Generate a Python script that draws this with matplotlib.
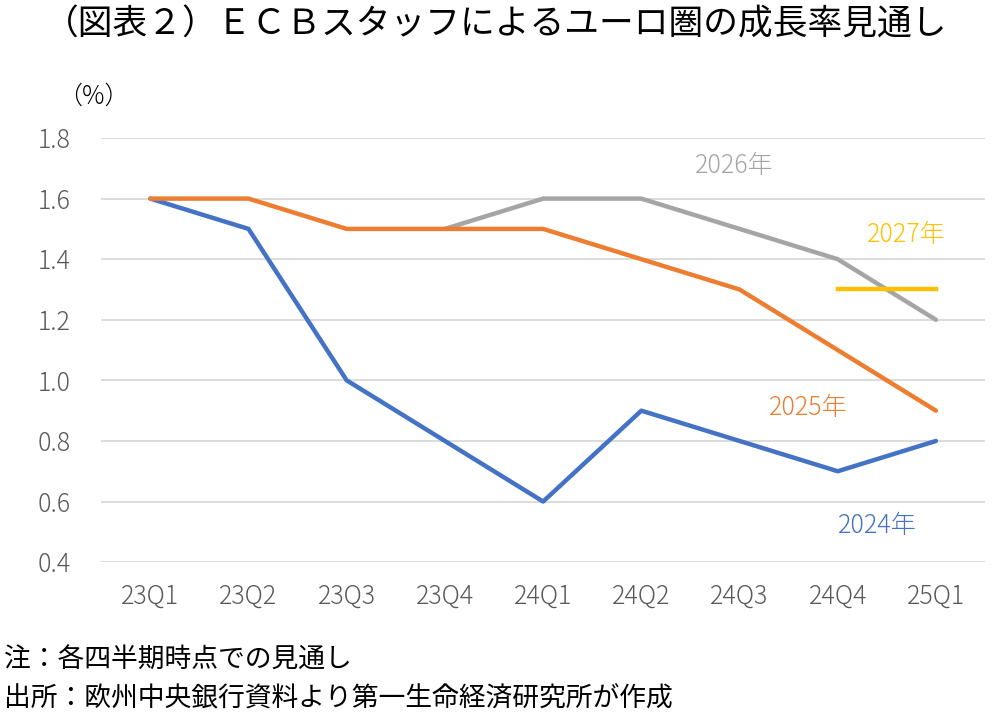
import matplotlib
matplotlib.use('Agg')
import matplotlib.pyplot as plt
import numpy as np

plt.rcParams['font.family'] = ['Noto Sans CJK JP', 'DejaVu Sans']

# data
quarters = ['23Q1', '23Q2', '23Q3', '23Q4', '24Q1', '24Q2', '24Q3', '24Q4', '25Q1']
y2024 = [1.6, 1.5, 1.0, 0.8, 0.6, 0.9, 0.8, 0.7, 0.8]
y2025 = [1.6, 1.6, 1.5, 1.5, 1.5, 1.4, 1.3, 1.1, 0.9]
y2026 = [np.nan, np.nan, np.nan, 1.5, 1.6, 1.6, 1.5, 1.4, 1.2]
y2027 = [np.nan, np.nan, np.nan, np.nan, np.nan, np.nan, np.nan, 1.3, 1.3]
yticks = [0.4, 0.6, 0.8, 1.0, 1.2, 1.4, 1.6, 1.8]

c_blue = '#4472C4'
c_orange = '#ED7D31'
c_gray = '#A5A5A5'
c_yellow = '#FFC000'
tick_col = '#595959'

fig = plt.figure(figsize=(9.92, 7.17), dpi=100)
ax = fig.add_axes([0.102, 0.216, 0.891, 0.5915])

x = np.arange(len(quarters))
ax.plot(x, y2026, color=c_gray, lw=3.2, solid_capstyle='round')
ax.plot(x, y2024, color=c_blue, lw=3.2, solid_capstyle='round')
ax.plot(x, y2025, color=c_orange, lw=3.2, solid_capstyle='round')
ax.plot(x, y2027, color=c_yellow, lw=3.2)

ax.set_xlim(-0.5, len(quarters) - 0.5)
ax.set_ylim(0.4, 1.8)
ax.set_yticks(yticks)
ax.set_yticklabels([f'{v:.1f}' for v in yticks])
ax.set_xticks(x)
ax.set_xticklabels(quarters)
ax.grid(axis='y', color='#D9D9D9', lw=1.3)
ax.set_axisbelow(True)
for s in ax.spines.values():
    s.set_visible(False)
ax.tick_params(length=0, labelsize=18, colors=tick_col, pad=15)
ax.tick_params(axis='y', pad=22)
for lab in ax.get_xticklabels() + ax.get_yticklabels():
    lab.set_fontweight('light')

# series labels
lab_kw = dict(fontsize=18, ha='center', va='center', fontweight='light')
ax.text(5.95, 1.71, '2026年', color=c_gray, **lab_kw)
ax.text(7.7, 1.48, '2027年', color=c_yellow, **lab_kw)
ax.text(6.7, 0.91, '2025年', color=c_orange, **lab_kw)
ax.text(7.4, 0.52, '2024年', color=c_blue, **lab_kw)

fig.text(0.5, 0.965, '（図表２）ＥＣＢスタッフによるユーロ圏の成長率見通し',
         fontsize=25, ha='center', va='center', color='#000000')
fig.text(0.058, 0.866, '（%）', fontsize=18, ha='left', va='center', color='#000000',
         fontweight='light')
fig.text(0.004, 0.079, '注：各四半期時点での見通し', fontsize=19.3, ha='left', va='center')
fig.text(0.004, 0.025, '出所：欧州中央銀行資料より第一生命経済研究所が作成', fontsize=19.3,
         ha='left', va='center')

plt.savefig('out.png', dpi=100)
